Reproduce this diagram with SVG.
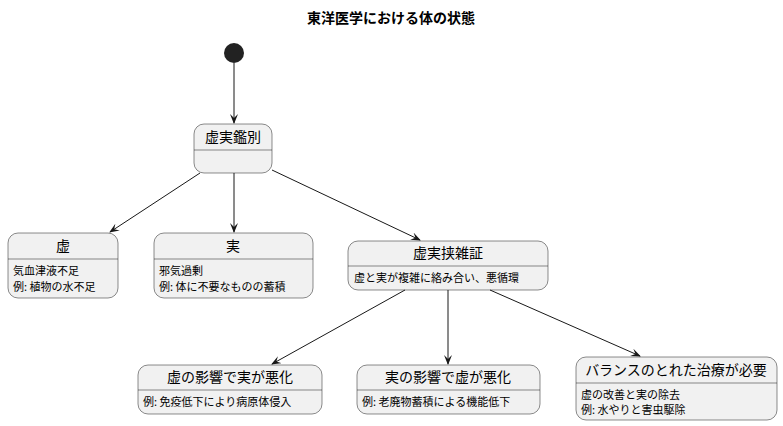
<svg xmlns="http://www.w3.org/2000/svg" width="783" height="426" viewBox="0 0 783 426">
<style>
text{font-family:"Noto Sans CJK JP","Noto Sans",sans-serif;fill:#000}
.t{font-size:14px;text-anchor:middle}
.b{font-size:11px}
.box{fill:#F1F1F1;stroke:#181818;stroke-width:0.5}
.div{stroke:#181818;stroke-width:0.5}
.c{stroke:#181818;stroke-width:1;fill:none;marker-end:url(#a)}
</style>
<defs><marker id="a" markerWidth="10" markerHeight="8" refX="9" refY="4" orient="auto" markerUnits="userSpaceOnUse"><path d="M0,0 L10,4 L0,8 L4,4 Z" fill="#181818"/></marker></defs>
<rect width="783" height="426" fill="#fff"/>
<text x="391" y="23" class="t" style="font-weight:bold">東洋医学における体の状態</text>
<g id="start"><circle cx="234" cy="53" r="10" fill="#222"/></g>
<g id="n0"><rect class="box" x="194" y="124" width="78" height="49" rx="10"/><text class="t" x="233" y="142">虚実鑑別</text><line class="div" x1="194" y1="150" x2="272" y2="150"/></g>
<g id="n1"><rect class="box" x="8" y="233" width="110" height="65" rx="10"/><text class="t" x="63" y="251">虚</text><line class="div" x1="8" y1="259" x2="118" y2="259"/><text class="b" x="13" y="275">気血津液不足</text><text class="b" x="13" y="291">例: 植物の水不足</text></g>
<g id="n2"><rect class="box" x="154" y="233" width="159" height="65" rx="10"/><text class="t" x="233" y="251">実</text><line class="div" x1="154" y1="259" x2="313" y2="259"/><text class="b" x="159" y="275">邪気過剰</text><text class="b" x="159" y="291">例: 体に不要なものの蓄積</text></g>
<g id="n3"><rect class="box" x="348" y="241" width="200" height="49" rx="10"/><text class="t" x="448" y="258">虚実挟雑証</text><line class="div" x1="348" y1="266" x2="548" y2="266"/><text class="b" x="354" y="282">虚と実が複雑に絡み合い、悪循環</text></g>
<g id="n4"><rect class="box" x="138" y="365" width="184" height="49" rx="10"/><text class="t" x="230" y="382">虚の影響で実が悪化</text><line class="div" x1="138" y1="390" x2="322" y2="390"/><text class="b" x="143" y="406">例: 免疫低下により病原体侵入</text></g>
<g id="n5"><rect class="box" x="357" y="365" width="183" height="49" rx="10"/><text class="t" x="448" y="382">実の影響で虚が悪化</text><line class="div" x1="357" y1="390" x2="540" y2="390"/><text class="b" x="362" y="406">例: 老廃物蓄積による機能低下</text></g>
<g id="n6"><rect class="box" x="576" y="357" width="201" height="63" rx="10"/><text class="t" x="676" y="375">バランスのとれた治療が必要</text><line class="div" x1="576" y1="383" x2="777" y2="383"/><text class="b" x="581" y="399">虚の改善と実の除去</text><text class="b" x="581" y="414">例: 水やりと害虫駆除</text></g>
<g id="connectors">
<path class="c" d="M234,63 L234,123"/>
<path class="c" d="M200,173 L110,232"/>
<path class="c" d="M234,173 L234,232"/>
<path class="c" d="M272,170 L420,240"/>
<path class="c" d="M405,290 L272,364"/>
<path class="c" d="M448,290 L448,364"/>
<path class="c" d="M490,290 L640,356"/>
</g>
</svg>
